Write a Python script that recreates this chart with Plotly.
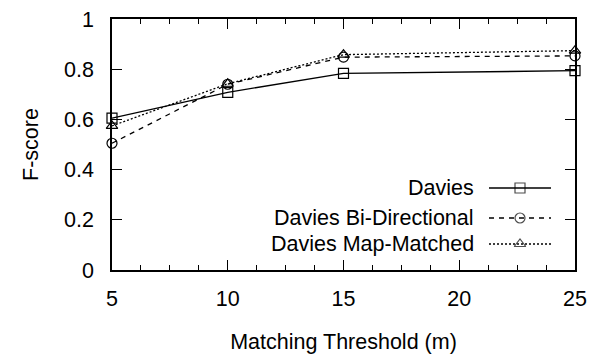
import plotly.graph_objects as go

thresholds = [5, 10, 15, 25]
davies = [0.605, 0.708, 0.783, 0.794]
davies_bidir = [0.505, 0.740, 0.848, 0.853]
davies_mapmatched = [0.574, 0.742, 0.858, 0.874]

series_names = ["Davies", "Davies Bi-Directional", "Davies Map-Matched"]
series_values = [davies, davies_bidir, davies_mapmatched]
dashes = ["solid", "5px,5px", "2px,2px"]
symbols = ["square-open", "circle-open", "triangle-up-open"]

x_ticks = [5, 10, 15, 20, 25]
y_ticks = [0, 0.2, 0.4, 0.6, 0.8, 1]
y_tick_text = ["0", "0.2", "0.4", "0.6", "0.8", "1"]

FONT = "Liberation Sans, Arial, Helvetica, sans-serif"
FS = 21.5
W, H = 598, 354
L, R, T, B = 112, 23, 19, 84

fig = go.Figure()
for name, vals, dsh, sym in zip(series_names, series_values, dashes, symbols):
    fig.add_trace(go.Scatter(
        x=thresholds, y=vals, mode="lines+markers", name=name,
        line=dict(color="black", width=1.3, dash=dsh),
        marker=dict(symbol=sym, size=10, color="black", line=dict(width=1.2, color="black")),
        showlegend=False, cliponaxis=False,
    ))

# manual legend (gnuplot style: text on the left, sample on the right)
rows_y = [188, 218, 244]
for name, dsh, sym, ry in zip(series_names, dashes, symbols, rows_y):
    fig.add_trace(go.Scatter(
        x=[489, 520, 551], y=[ry, ry, ry], mode="lines+markers",
        xaxis="x2", yaxis="y2",
        line=dict(color="black", width=1.3, dash=dsh),
        marker=dict(symbol=sym, size=[0, 10, 0], color="black", line=dict(width=1.2, color="black")),
        showlegend=False, hoverinfo="skip",
    ))
    fig.add_annotation(
        x=476, y=ry, xref="x2", yref="y2", text=name, showarrow=False,
        xanchor="right", yanchor="middle", font=dict(family=FONT, size=FS, color="black"),
    )

fig.update_layout(
    width=W, height=H,
    margin=dict(l=L, r=R, t=T, b=B, pad=0),
    paper_bgcolor="white", plot_bgcolor="white",
    font=dict(family=FONT, size=FS, color="black"),
    xaxis=dict(
        range=[5, 25], tickvals=x_ticks, ticktext=[str(v) for v in x_ticks],
        ticks="inside", ticklen=10, tickwidth=1.2, tickcolor="black",
        minor=dict(dtick=1.25, tick0=5, ticks="inside", ticklen=5, tickwidth=1.2, tickcolor="black"),
        showline=True, linecolor="black", linewidth=1.5, mirror="ticks",
        showgrid=False, zeroline=False, automargin=False,
        title=dict(text="Matching Threshold (m)", font=dict(size=FS), standoff=24),
        tickfont=dict(size=FS), ticklabelstandoff=8,
    ),
    yaxis=dict(
        range=[0, 1], tickvals=y_ticks, ticktext=y_tick_text,
        ticks="inside", ticklen=10, tickwidth=1.2, tickcolor="black",
        showline=True, linecolor="black", linewidth=1.5, mirror="ticks",
        showgrid=False, zeroline=False, automargin=False,
        title=dict(text="F-score", font=dict(size=FS), standoff=20),
        tickfont=dict(size=FS), ticklabelstandoff=12,
    ),
    xaxis2=dict(domain=[0, 1], range=[L, W - R], overlaying="x", visible=False, fixedrange=True),
    yaxis2=dict(domain=[0, 1], range=[H - B, T], overlaying="y", visible=False, fixedrange=True),
    showlegend=False,
)

fig.write_html("out.html")
